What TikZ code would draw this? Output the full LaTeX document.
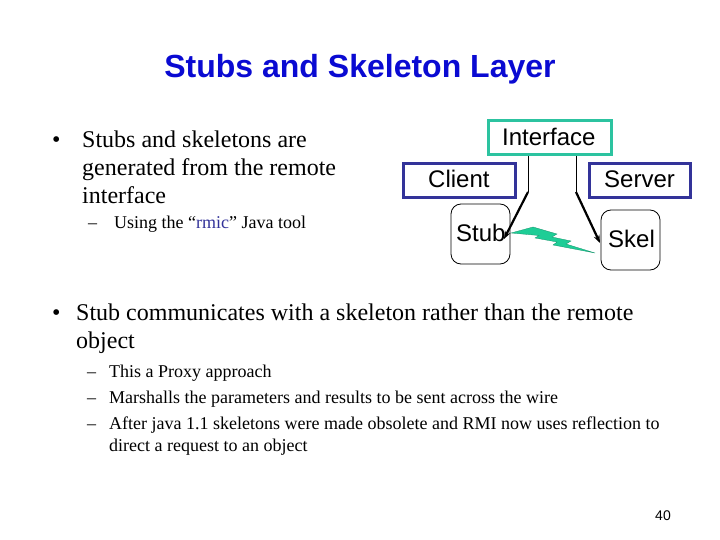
\documentclass[tikz,border=0pt]{standalone}
\usepackage{fontspec}
\setmainfont{Liberation Serif}
\newfontfamily\arial{Liberation Sans}
\usetikzlibrary{arrows.meta}
\definecolor{titleblue}{RGB}{10,10,210}
\definecolor{boxblue}{RGB}{51,51,153}
\definecolor{teal1}{RGB}{44,195,160}
\definecolor{bolt}{RGB}{30,205,150}
\definecolor{rmicc}{RGB}{51,51,153}
\tikzset{
  txt/.style={inner sep=0pt, anchor=base west},
  big/.style={font=\fontsize{24bp}{28bp}\selectfont},
  small/.style={font=\fontsize{18bp}{22bp}\selectfont},
  lbl/.style={font=\arial\fontsize{24bp}{28bp}\selectfont},
  sqbox/.style={draw, line width=3bp, inner sep=0pt},
  rbox/.style={draw, line width=0.8bp, rounded corners=10bp, inner sep=0pt},
  conn/.style={line width=0.8bp},
  arr/.style={line width=2.2bp, -{Stealth[length=8bp,width=6bp]}}
}
\begin{document}
\begin{tikzpicture}[x=1bp,y=-1bp]
\useasboundingbox (0,0) rectangle (720,540);
% title
\node[inner sep=0pt, anchor=base, text=titleblue, font=\arial\bfseries\fontsize{32bp}{36bp}\selectfont] (title) at (360,78) {Stubs and Skeleton Layer};
% bullet 1
\node[txt, big] (b1) at (52,148) {\textbullet};
\node[txt, big] (t1a) at (82,148) {Stubs and skeletons are};
\node[txt, big] (t1b) at (82,176) {generated from the remote};
\node[txt, big] (t1c) at (82,204) {interface};
\node[txt, small] (d1) at (88,229) {--};
\node[txt, small] (s1) at (114,229) {Using the “\textcolor{rmicc}{rmic}” Java tool};
% bullet 2
\node[txt, big] (b2) at (52,320) {\textbullet};
\node[txt, big] (t2a) at (76,320) {Stub communicates with a skeleton rather than the remote};
\node[txt, big] (t2b) at (76,348) {object};
\node[txt, small] (d2) at (87,377) {--};
\node[txt, small] (s2) at (109,377) {This a Proxy approach};
\node[txt, small] (d3) at (87,403) {--};
\node[txt, small] (s3) at (109,403) {Marshalls the parameters and results to be sent across the wire};
\node[txt, small] (d4) at (87,429) {--};
\node[txt, small] (s4a) at (109,429) {After java 1.1 skeletons were made obsolete and RMI now uses reflection to};
\node[txt, small] (s4b) at (109,451) {direct a request to an object};
% page number
\node[inner sep=0pt, anchor=base, font=\arial\fontsize{14bp}{16bp}\selectfont] (pg) at (663,520) {40};
% diagram boxes
\node[sqbox, draw=teal1, minimum width=123bp, minimum height=34bp] (iface) at (550,137.5) {};
\node[txt, lbl] (ifacet) at (502,146) {Interface};
\node[sqbox, draw=boxblue, minimum width=112bp, minimum height=34bp] (client) at (459.5,180.5) {};
\node[txt, lbl] (clientt) at (428,188) {Client};
\node[sqbox, draw=boxblue, minimum width=101bp, minimum height=34bp] (server) at (640,180.5) {};
\node[txt, lbl] (servert) at (604,188) {Server};
\node[rbox, minimum width=59bp, minimum height=60bp] (stub) at (480.5,234) {};
\node[txt, lbl] (stubt) at (456,242) {Stub};
\node[rbox, minimum width=59bp, minimum height=60bp] (skel) at (630.5,240) {};
\node[txt, lbl] (skelt) at (608,248) {Skel};
% connectors
\coordinate (lk) at (528,192);
\coordinate (rk) at (576,192);
\coordinate (stubin) at (504,239);
\coordinate (skelin) at (600,243);
\draw[conn] (iface.south -| lk) -- (lk);
\draw[arr] (lk) -- (stubin);
\draw[conn] (iface.south -| rk) -- (rk);
\draw[arr] (rk) -- (skelin);
% lightning bolt
\fill[bolt, draw=bolt!70!black, line width=0.3bp]
  (511,233) -- (533,227) -- (557,234) -- (552,237) -- (571,241) -- (566,244)
  -- (595,253) -- (553,245) -- (557,242) -- (535,238) -- (539,235.5) -- cycle;
\end{tikzpicture}
\end{document}
